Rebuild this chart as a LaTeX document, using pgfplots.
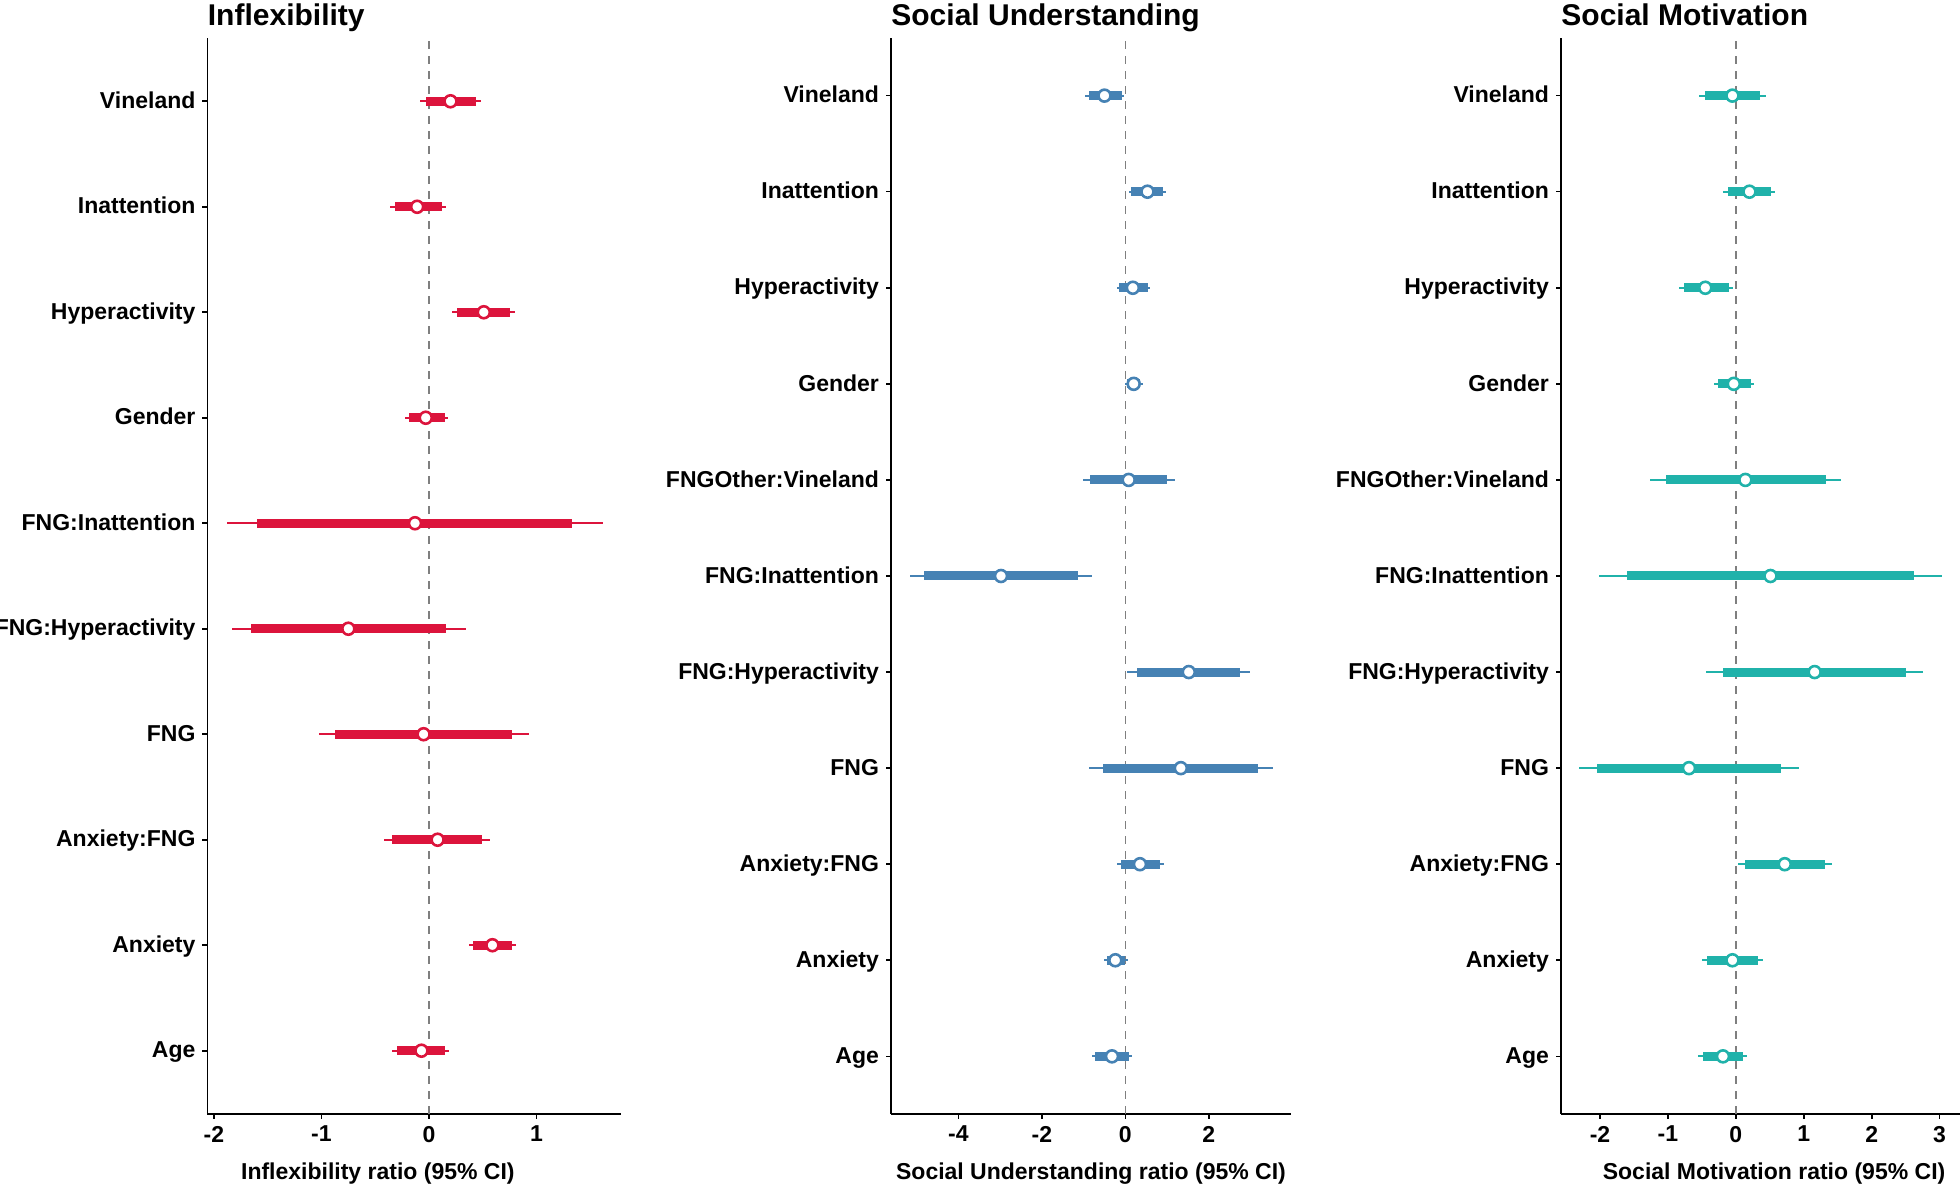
\documentclass[border=0pt]{standalone}
\usepackage{pgfplots}
\pgfplotsset{compat=1.18}
\usepackage{pgfplotstable}
\usepackage{fontspec}
\setmainfont{Liberation Sans}

\definecolor{crim}{HTML}{DC143C}
\definecolor{steel}{HTML}{4682B4}
\definecolor{seag}{HTML}{20B2AA}
\definecolor{zline}{HTML}{7F7F7F}

% pos = row (Age at bottom), est = estimate, lo/hi = outer interval, ilo/ihi = inner interval
\pgfplotstableread{
pos est lo hi ilo ihi
10 0.20 -0.08 0.48 -0.03 0.44
9 -0.11 -0.36 0.16 -0.32 0.12
8 0.51 0.21 0.80 0.26 0.75
7 -0.03 -0.22 0.18 -0.19 0.15
6 -0.13 -1.88 1.62 -1.60 1.33
5 -0.75 -1.83 0.34 -1.66 0.16
4 -0.05 -1.02 0.93 -0.87 0.77
3 0.08 -0.42 0.57 -0.34 0.49
2 0.59 0.37 0.81 0.41 0.77
1 -0.07 -0.34 0.19 -0.30 0.15
}\tabInflex

\pgfplotstableread{
pos est lo hi ilo ihi
11 -0.50 -0.97 -0.04 -0.88 -0.09
10 0.53 0.09 0.97 0.14 0.90
9 0.18 -0.21 0.59 -0.15 0.55
8 0.20 -0.02 0.42 0.04 0.36
7 0.08 -1.02 1.18 -0.84 1.01
6 -2.98 -5.16 -0.79 -4.82 -1.14
5 1.52 0.04 2.98 0.29 2.75
4 1.33 -0.87 3.54 -0.53 3.18
3 0.35 -0.19 0.92 -0.10 0.83
2 -0.24 -0.52 0.06 -0.44 -0.01
1 -0.32 -0.80 0.15 -0.72 0.09
}\tabSocU

\pgfplotstableread{
pos est lo hi ilo ihi
11 -0.05 -0.54 0.44 -0.46 0.36
10 0.20 -0.19 0.58 -0.12 0.51
9 -0.45 -0.84 -0.04 -0.77 -0.10
8 -0.03 -0.32 0.27 -0.27 0.22
7 0.14 -1.26 1.55 -1.03 1.32
6 0.51 -2.01 3.03 -1.60 2.62
5 1.16 -0.44 2.75 -0.19 2.50
4 -0.69 -2.31 0.93 -2.04 0.67
3 0.72 0.03 1.42 0.13 1.31
2 -0.05 -0.50 0.40 -0.42 0.33
1 -0.19 -0.55 0.16 -0.49 0.11
}\tabSocM

\pgfplotsset{
  forest/.style={
    scale only axis, anchor=south west, height=538pt,
    axis x line*=bottom, axis y line*=left,
    axis line style={line width=0.9pt, black},
    tick align=outside, major tick length=2.5pt,
    tick style={line width=0.8pt, black},
    ymin=0.4, ytick distance=1,
    tick label style={font=\bfseries\fontsize{11.5}{13}\selectfont, black},
    yticklabel style={anchor=base east, yshift=-0.36em},
    xlabel style={font=\bfseries\fontsize{11.5}{13}\selectfont, anchor=base, yshift=-33pt},
    title style={at={(0,1)}, anchor=base west, inner sep=0pt, yshift=0pt,
      font=\bfseries\fontsize{15}{18}\selectfont},
    clip=false,
  },
  outer/.style={only marks, mark=none, error bars/.cd, x dir=both, x explicit,
    error mark=none, error bar style={draw=#1, line width=1pt}},
  inner/.style={only marks, mark=none, error bars/.cd, x dir=both, x explicit,
    error mark=none, error bar style={draw=#1, line width=4.5pt}},
  est/.style={only marks, mark=*, mark size=3pt,
    mark options={fill=white, draw=#1, line width=1.3pt}},
  zero/.style={zline, line width=0.8pt, dash pattern=on 4pt off 3.5pt},
}

\begin{document}
\begin{tikzpicture}
\useasboundingbox (0,0) rectangle (980pt,594pt);

\begin{axis}[forest, at={(103.75pt,37pt)}, width=206.75pt,
  title={Inflexibility},
  xmin=-2.06, xmax=1.786, ymax=10.6,
  xtick={-2,-1,0,1}, xticklabels={-2,-1,0,1},
  ytick={1,...,10},
  yticklabels={Age,Anxiety,Anxiety:FNG,FNG,FNG:Hyperactivity,FNG:Inattention,Gender,Hyperactivity,Inattention,Vineland},
  xlabel={Inflexibility ratio (95\% CI)},
  xlabel style={at={(axis description cs:0.412,0)}},
]
\addplot[zero] coordinates {(0,0.4) (0,10.6)};
\addplot[outer=crim] table[x=est, y=pos, x error plus expr=\thisrow{hi}-\thisrow{est}, x error minus expr=\thisrow{est}-\thisrow{lo}] {\tabInflex};
\addplot[inner=crim] table[x=est, y=pos, x error plus expr=\thisrow{ihi}-\thisrow{est}, x error minus expr=\thisrow{est}-\thisrow{ilo}] {\tabInflex};
\addplot[est=crim] table[x=est, y=pos] {\tabInflex};
\end{axis}

\begin{axis}[forest, at={(445.5pt,37pt)}, width=200pt,
  title={Social Understanding},
  xmin=-5.616, xmax=3.97, ymax=11.6,
  xtick={-4,-2,0,2}, xticklabels={-4,-2,0,2},
  ytick={1,...,11},
  yticklabels={Age,Anxiety,Anxiety:FNG,FNG,FNG:Hyperactivity,FNG:Inattention,FNGOther:Vineland,Gender,Hyperactivity,Inattention,Vineland},
  xlabel={Social Understanding ratio (95\% CI)},
  xlabel style={at={(axis description cs:0.5,0)}},
]
\addplot[zero] coordinates {(0,0.4) (0,11.6)};
\addplot[outer=steel] table[x=est, y=pos, x error plus expr=\thisrow{hi}-\thisrow{est}, x error minus expr=\thisrow{est}-\thisrow{lo}] {\tabSocU};
\addplot[inner=steel] table[x=est, y=pos, x error plus expr=\thisrow{ihi}-\thisrow{est}, x error minus expr=\thisrow{est}-\thisrow{ilo}] {\tabSocU};
\addplot[est=steel] table[x=est, y=pos] {\tabSocU};
\end{axis}

\begin{axis}[forest, at={(780.5pt,37pt)}, width=199.5pt,
  title={Social Motivation},
  xmin=-2.574, xmax=3.30, ymax=11.6,
  xtick={-2,-1,0,1,2,3}, xticklabels={-2,-1,0,1,2,3},
  ytick={1,...,11},
  yticklabels={Age,Anxiety,Anxiety:FNG,FNG,FNG:Hyperactivity,FNG:Inattention,FNGOther:Vineland,Gender,Hyperactivity,Inattention,Vineland},
  xlabel={Social Motivation ratio (95\% CI)},
  xlabel style={at={(axis description cs:0.534,0)}},
]
\addplot[zero] coordinates {(0,0.4) (0,11.6)};
\addplot[outer=seag] table[x=est, y=pos, x error plus expr=\thisrow{hi}-\thisrow{est}, x error minus expr=\thisrow{est}-\thisrow{lo}] {\tabSocM};
\addplot[inner=seag] table[x=est, y=pos, x error plus expr=\thisrow{ihi}-\thisrow{est}, x error minus expr=\thisrow{est}-\thisrow{ilo}] {\tabSocM};
\addplot[est=seag] table[x=est, y=pos] {\tabSocM};
\end{axis}
\end{tikzpicture}
\end{document}
